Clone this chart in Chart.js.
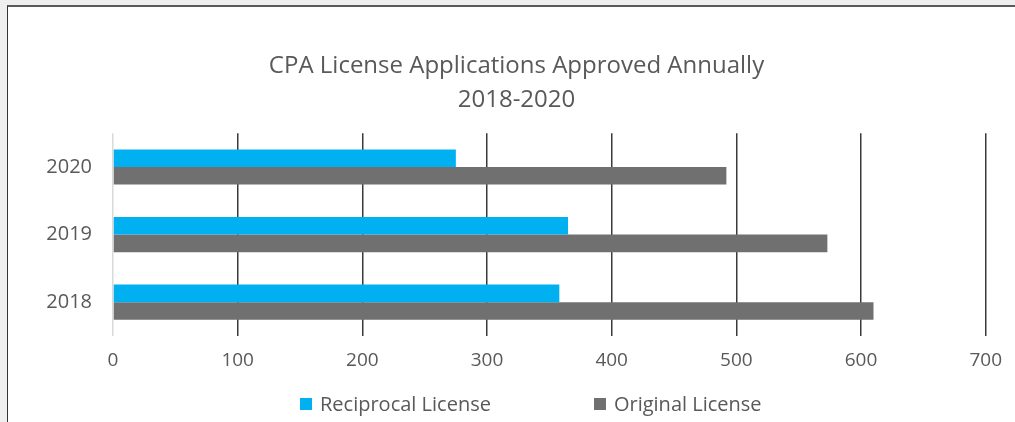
<!DOCTYPE html>
<html>
<head>
<meta charset="utf-8">
<script src="https://cdn.jsdelivr.net/npm/chart.js@4"></script>
<style>
  html, body { margin: 0; padding: 0; }
  body { width: 1015px; height: 422px; background: #efefef; position: relative; overflow: hidden; font-family: "Open Sans", sans-serif; }
  #frame { position: absolute; left: 7px; top: 5px; right: 0; bottom: 0; background: #fff; border-left: 1px solid #333; border-top: 2px solid #5a5a5a; }
  #c { position: absolute; left: 0; top: 0; }
  #legend { position: absolute; left: 300px; top: 390px; display: flex; gap: 103px; color: #595959; font-size: 20px; }
  #legend .item { display: flex; align-items: center; }
  #legend .box { width: 12px; height: 12px; margin-right: 8px; }
</style>
</head>
<body>
<div id="frame"></div>
<canvas id="c" width="1015" height="422"></canvas>
<div id="legend"></div>
<script>
// =========================
// データ
// =========================
const years = ["2020", "2019", "2018"];
const reciprocal = [275, 365, 358];
const original = [492, 573, 610];
const xTicks = [0, 100, 200, 300, 400, 500, 600, 700];

const titleLines = ["CPA License Applications Approved Annually", "2018-2020"];
const textColor = "#595959";

const chart = new Chart(document.getElementById("c"), {
  type: "bar",
  data: {
    labels: years,
    datasets: [
      { label: "Reciprocal License", data: reciprocal, backgroundColor: "#00b0f0" },
      { label: "Original License", data: original, backgroundColor: "#707070" }
    ]
  },
  options: {
    indexAxis: "y",
    responsive: false,
    animation: false,
    categoryPercentage: 0.52,
    barPercentage: 1,
    layout: { padding: { left: 41, right: 23, top: 0, bottom: 51 } },
    plugins: {
      legend: { display: false },
      tooltip: { enabled: false },
      title: {
        display: true,
        text: titleLines,
        color: textColor,
        font: { family: "Open Sans", size: 24, weight: "normal", lineHeight: 1.42 },
        padding: { top: 49, bottom: 16 }
      }
    },
    scales: {
      x: {
        min: 0,
        max: 700,
        afterBuildTicks: s => { s.ticks = xTicks.map(v => ({ value: v })); },
        afterFit: s => { s.height = 35; },
        grid: {
          color: c => (c.tick && c.tick.value === 0) ? "#d9d9d9" : "#3a3a3a",
          lineWidth: 1.5,
          drawTicks: false
        },
        border: { display: false },
        ticks: { color: textColor, padding: 13, font: { family: "Open Sans", size: 19 } }
      },
      y: {
        afterFit: s => { s.width = 72; },
        grid: { display: false },
        border: { display: false },
        ticks: { color: textColor, padding: 13, font: { family: "Open Sans", size: 20 } }
      }
    }
  }
});

// 凡例（HTML）
document.getElementById("legend").innerHTML = chart.data.datasets.map(ds =>
  `<div class="item"><span class="box" style="background:${ds.backgroundColor}"></span>${ds.label}</div>`
).join("");
</script>
</body>
</html>
